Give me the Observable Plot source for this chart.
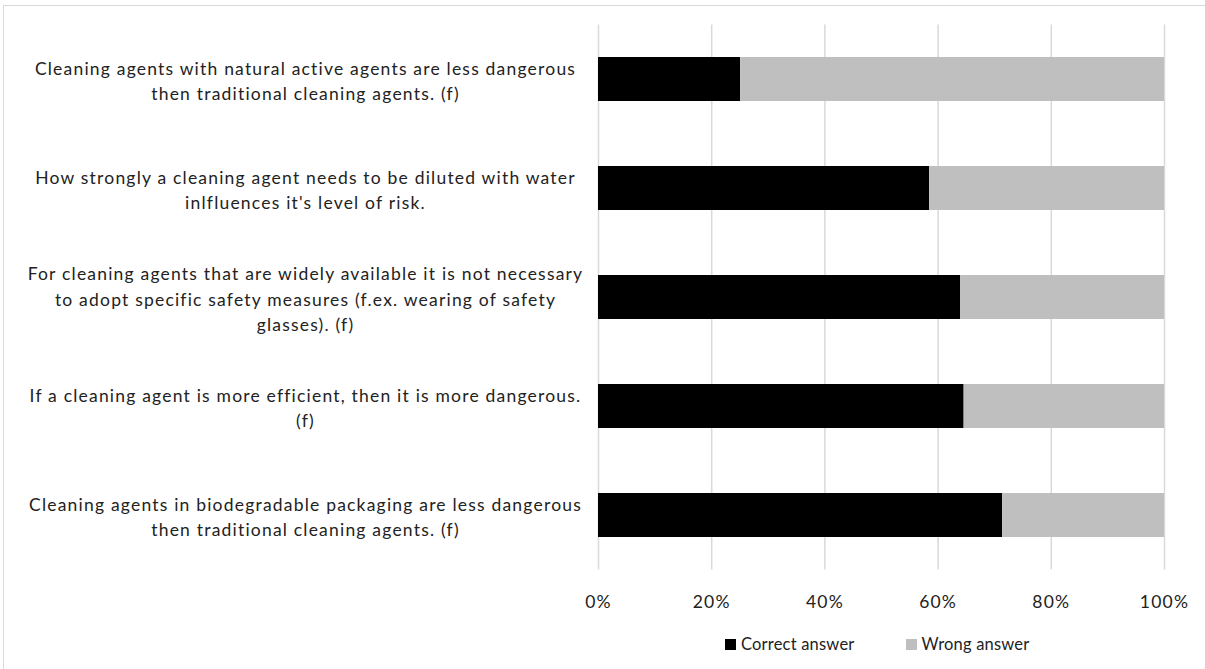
<!DOCTYPE html>
<html>
<head>
<meta charset="utf-8">
<script src="https://cdn.jsdelivr.net/npm/d3@7"></script>
<script src="https://cdn.jsdelivr.net/npm/@observablehq/plot@0.6"></script>
<style>
  html, body { margin: 0; padding: 0; background: #fff; }
  body { width: 1205px; height: 669px; position: relative; overflow: hidden; font-family: Lato, "Open Sans", sans-serif; }
  #frame { position: absolute; left: 3px; top: 5px; width: 1220px; height: 700px; border: 1px solid #d9d9d9; box-sizing: border-box; }
  #chart { position: absolute; left: 0; top: 0; }
  #legend { position: absolute; left: 725px; top: 634px; display: flex; align-items: center; font-size: 16.5px; letter-spacing: 0.2px; color: #222; }
  .sw { display: inline-block; width: 11px; height: 11px; margin-right: 5px; }
  .item { display: flex; align-items: center; margin-right: 51px; }
</style>
</head>
<body>
<div id="frame"></div>
<div id="chart"></div>
<div id="legend"></div>
<script>
// Statements in the knowledge quiz, top to bottom
const statements = [
  "Cleaning agents with natural active agents are less dangerous\nthen traditional cleaning agents. (f)",
  "How strongly a cleaning agent needs to be diluted with water\ninlfluences it's level of risk.",
  "For cleaning agents that are widely available it is not necessary\nto adopt specific safety measures (f.ex. wearing of safety\nglasses). (f)",
  "If a cleaning agent is more efficient, then it is more dangerous.\n(f)",
  "Cleaning agents in biodegradable packaging are less dangerous\nthen traditional cleaning agents. (f)"
];
// Share of respondents (%)
const correctAnswer = [25.1, 58.5, 64.0, 64.6, 71.4];
const wrongAnswer   = [74.9, 41.5, 36.0, 35.4, 28.6];
const seriesNames = ["Correct answer", "Wrong answer"];
const seriesColors = ["#000000", "#bfbfbf"];
const xTicks = [0, 20, 40, 60, 80, 100];

const rows = [];
statements.forEach((s, i) => {
  rows.push({statement: s, answer: seriesNames[0], value: correctAnswer[i]});
  rows.push({statement: s, answer: seriesNames[1], value: wrongAnswer[i]});
});

const font = "Lato, 'Open Sans', sans-serif";

const chart = Plot.plot({
  width: 1205,
  height: 620,
  marginLeft: 598,
  marginRight: 41,
  marginTop: 24.5,
  marginBottom: 50.5,
  style: {fontFamily: font, fontSize: "17.5px", letterSpacing: "1.2px", color: "#222", background: "transparent"},
  x: {domain: [0, 100]},
  y: {domain: statements, paddingInner: 0.596, paddingOuter: 0.298},
  color: {domain: seriesNames, range: seriesColors},
  marks: [
    Plot.gridX(xTicks, {stroke: "#d9d9d9", strokeOpacity: 1, strokeWidth: 1.5}),
    Plot.barX(rows, Plot.stackX({
      y: "statement",
      x: "value",
      fill: "answer",
      order: seriesNames
    })),
    Plot.axisX({
      anchor: "bottom",
      ticks: xTicks,
      tickSize: 0,
      tickPadding: 26,
      tickFormat: d => d + "%",
      label: null
    }),
    Plot.axisY({
      anchor: "left",
      tickSize: 0,
      tickPadding: 0,
      textAnchor: "middle",
      dx: -293,
      lineHeight: 1.43,
      label: null
    })
  ]
});
document.getElementById("chart").appendChild(chart);

const legend = document.getElementById("legend");
seriesNames.forEach((name, i) => {
  const item = document.createElement("span");
  item.className = "item";
  const sw = document.createElement("span");
  sw.className = "sw";
  sw.style.background = seriesColors[i];
  item.appendChild(sw);
  item.appendChild(document.createTextNode(name));
  legend.appendChild(item);
});
</script>
</body>
</html>
